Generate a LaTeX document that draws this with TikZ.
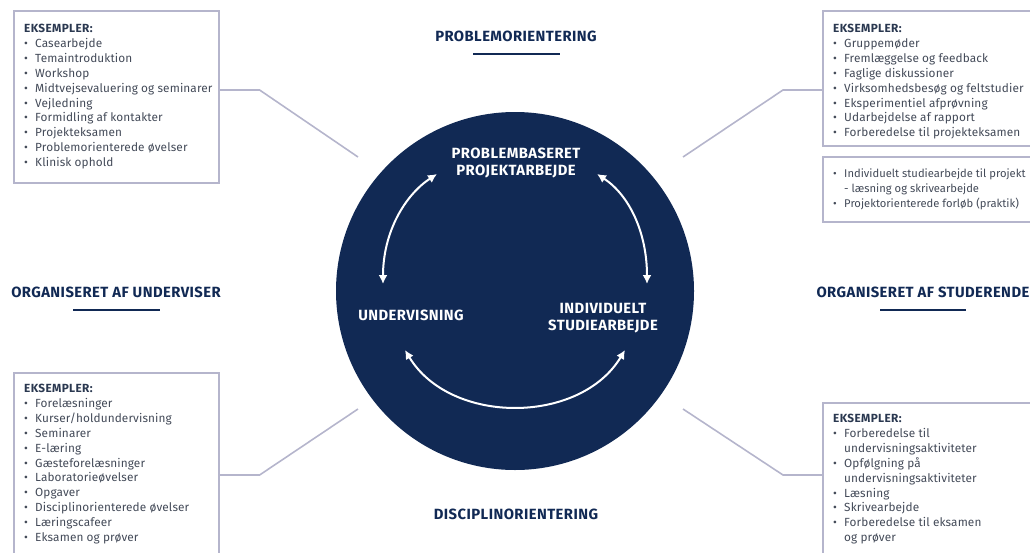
\documentclass[tikz,border=0pt]{standalone}
\usepackage{fontspec}
\setmainfont{Fira Sans}
\usetikzlibrary{arrows.meta}
\definecolor{navy}{HTML}{112954}
\definecolor{boxgray}{HTML}{B5B5CC}
\definecolor{textgray}{HTML}{434A58}
\definecolor{headgray}{HTML}{2A3850}
\newcommand\lstitem[1]{\makebox[11pt][l]{\textbullet}#1}
\newcommand\lstcont[1]{\hspace*{11pt}#1}
\newcommand\lsthead{{\bfseries\color{headgray}\addfontfeatures{LetterSpace=3}EKSEMPLER:}}
\begin{document}
\begin{tikzpicture}[x=1pt,y=-1pt,
  box/.style={draw=boxgray, line width=1.6pt, inner sep=0pt, anchor=north west},
  lst/.style={anchor=north west, inner sep=0pt, align=left, text=textgray, font=\fontsize{11.8}{14.9}\selectfont\addfontfeatures{LetterSpace=1}},
  conn/.style={draw=boxgray, line width=1.6pt},
  head/.style={font=\bfseries\fontsize{14.8}{16}\selectfont\addfontfeatures{LetterSpace=3}, text=navy},
  uline/.style={draw=navy, line width=2.6pt},
  inner/.style={font=\bfseries\fontsize{14.8}{17}\selectfont\addfontfeatures{LetterSpace=3}, text=white, align=center},
  cyc/.style={draw=white, line width=2pt, {Latex[length=9pt,width=9pt]}-{Latex[length=9pt,width=9pt]}}]
\useasboundingbox (0,0) rectangle (1030,552);
\clip (0,0) rectangle (1030,552);

% central circle
\node[circle, fill=navy, minimum size=358pt, inner sep=0pt] (circ) at (515,291) {};
\node[inner] (pbp) at (516,163) {PROBLEMBASERET\\PROJEKTARBEJDE};
\node[inner] (und) at (411,315) {UNDERVISNING};
\node[inner] (ind) at (603,318) {INDIVIDUELT\\STUDIEARBEJDE};

\coordinate (a1) at (383,284);
\coordinate (a2) at (437,174);
\coordinate (a3) at (597,174);
\coordinate (a4) at (647,284);
\coordinate (a5) at (405,350);
\coordinate (a6) at (625,350);
\draw[cyc] (a1) .. controls (383,232) and (405,195) .. (a2);
\draw[cyc] (a3) .. controls (629,195) and (647,232) .. (a4);
\draw[cyc] (a5) .. controls (450,425) and (580,425) .. (a6);

% outer headings
\node[head] (hprob) at (516,36) {PROBLEMORIENTERING};
\draw[uline] (473,54) -- (560,54);
\node[head] (hdisc) at (516,514) {DISCIPLINORIENTERING};
\node[head] (hund) at (116,292) {ORGANISERET AF UNDERVISER};
\draw[uline] (73,310) -- (160,310);
\node[head, anchor=west] (hstu) at (813,292) {ORGANISERET AF STUDERENDE};
\draw[uline] (880,310) -- (966,310);

% boxes
\node[box, minimum width=205pt, minimum height=172pt] (tlbox) at (13,10) {};
\node[lst] (tltext) at (24,24) {\lsthead\\
\lstitem{Casearbejde}\\
\lstitem{Temaintroduktion}\\
\lstitem{Workshop}\\
\lstitem{Midtvejsevaluering og seminarer}\\
\lstitem{Vejledning}\\
\lstitem{Formidling af kontakter}\\
\lstitem{Projekteksamen}\\
\lstitem{Problemorienterede øvelser}\\
\lstitem{Klinisk ophold}};

\node[box, minimum width=230pt, minimum height=135pt] (trbox) at (822,10) {};
\node[lst] (trtext) at (833,24) {\lsthead\\
\lstitem{Gruppemøder}\\
\lstitem{Fremlæggelse og feedback}\\
\lstitem{Faglige diskussioner}\\
\lstitem{Virksomhedsbesøg og feltstudier}\\
\lstitem{Eksperimentiel afprøvning}\\
\lstitem{Udarbejdelse af rapport}\\
\lstitem{Forberedelse til projekteksamen}};

\node[box, minimum width=230pt, minimum height=65pt] (trbox2) at (822,156) {};
\node[lst, font=\fontsize{11.2}{14.9}\selectfont] (trtext2) at (833,169) {\lstitem{Individuelt studiearbejde til projekt}\\
\lstcont{- læsning og skrivearbejde}\\
\lstitem{Projektorienterede forløb (praktik)}};

\node[box, minimum width=205pt, minimum height=200pt] (blbox) at (13,372) {};
\node[lst] (bltext) at (24,384) {\lsthead\\
\lstitem{Forelæsninger}\\
\lstitem{Kurser/holdundervisning}\\
\lstitem{Seminarer}\\
\lstitem{E-læring}\\
\lstitem{Gæsteforelæsninger}\\
\lstitem{Laboratorieøvelser}\\
\lstitem{Opgaver}\\
\lstitem{Disciplinorienterede øvelser}\\
\lstitem{Læringscafeer}\\
\lstitem{Eksamen og prøver}};

\node[box, minimum width=230pt, minimum height=170pt] (brbox) at (822,402) {};
\node[lst] (brtext) at (833,414) {\lsthead\\
\lstitem{Forberedelse til}\\
\lstcont{undervisningsaktiviteter}\\
\lstitem{Opfølgning på}\\
\lstcont{undervisningsaktiviteter}\\
\lstitem{Læsning}\\
\lstitem{Skrivearbejde}\\
\lstitem{Forberedelse til eksamen}\\
\lstcont{og prøver}};

% connectors
\coordinate (tlend) at (358,157);
\coordinate (trend) at (683,157);
\coordinate (blend) at (358,409);
\coordinate (brend) at (683,409);
\draw[conn] ([yshift=-80pt]tlbox.north east) -- ++(40,0) -- (tlend);
\draw[conn] ([yshift=-80pt]trbox.north west) -- ++(-39,0) -- (trend);
\draw[conn] ([yshift=-103pt]blbox.north east) -- ++(40,0) -- (blend);
\draw[conn] ([yshift=-73pt]brbox.north west) -- ++(-39,0) -- (brend);
\end{tikzpicture}
\end{document}
